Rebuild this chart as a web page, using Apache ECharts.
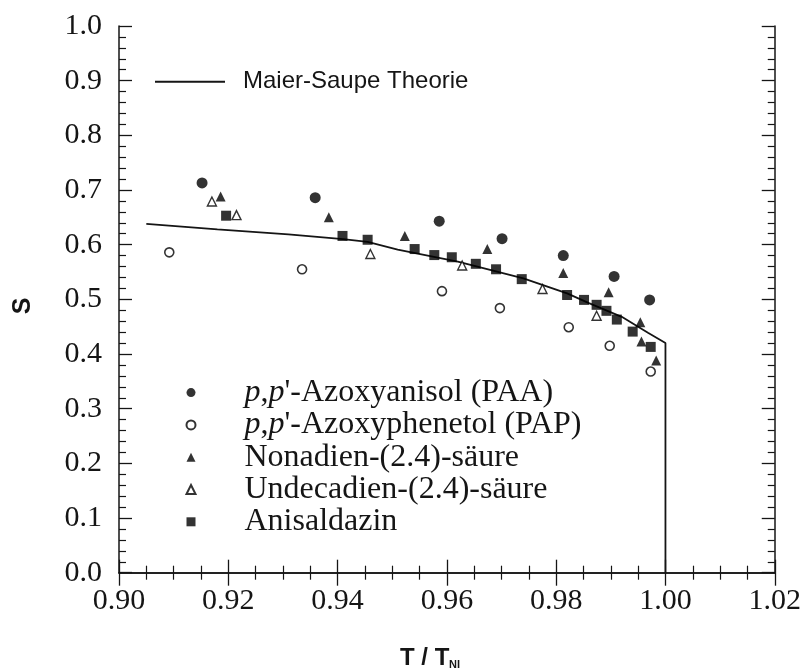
<!DOCTYPE html>
<html><head><meta charset="utf-8">
<script src="https://cdn.jsdelivr.net/npm/echarts@6/dist/echarts.min.js"></script>
<style>html,body{margin:0;padding:0;background:#fff}#c{width:804px;height:670px}</style>
</head><body><div id="c"></div>
<script>
// Tick labels
const xTickLabels = ['0.90','0.92','0.94','0.96','0.98','1.00','1.02'];
const yTickLabels = ['0.0','0.1','0.2','0.3','0.4','0.5','0.6','0.7','0.8','0.9','1.0'];

// Maier-Saupe theory curve
const theoryX = [0.905,0.918,0.931,0.941,0.9455,0.951,0.962,0.974,0.982,0.986,0.992,0.9968,1.000,1.000];
const theoryY = [0.638,0.628,0.619,0.610,0.605,0.591,0.569,0.5385,0.511,0.493,0.468,0.439,0.420,0.0];

// p,p'-Azoxyanisol (PAA) - filled circles
const paaX = [0.9152,0.9359,0.9586,0.9701,0.9813,0.9906,0.9971];
const paaY = [0.713,0.686,0.643,0.611,0.580,0.542,0.499];

// p,p'-Azoxyphenetol (PAP) - open circles
const papX = [0.9092,0.9335,0.9591,0.9697,0.9823,0.9898,0.9973];
const papY = [0.586,0.555,0.515,0.484,0.449,0.415,0.368];

// Nonadien-(2.4)-säure - filled triangles
const nonX = [0.9186,0.9384,0.9523,0.9674,0.9813,0.9896,0.9954,0.9956,0.9983];
const nonY = [0.688,0.650,0.616,0.592,0.548,0.513,0.458,0.423,0.388];

// Undecadien-(2.4)-säure - open triangles
const undX = [0.9170,0.9215,0.9460,0.9628,0.9775,0.9874];
const undY = [0.679,0.654,0.583,0.562,0.519,0.470];

// Anisaldazin - filled squares
const aniX = [0.9196,0.9409,0.9455,0.9541,0.9577,0.9609,0.9653,0.9690,0.9737,0.9820,0.9851,0.9874,0.9892,0.9911,0.9940,0.9973];
const aniY = [0.653,0.616,0.609,0.592,0.581,0.577,0.565,0.555,0.537,0.508,0.499,0.490,0.479,0.463,0.441,0.413];

const zip = (xs, ys) => xs.map((x, i) => [x, ys[i]]);

const serif = 'Liberation Serif';
const sans = 'Liberation Sans';
const ink = '#151515';

const names = {
  paa: "p,p'-Azoxyanisol (PAA)",
  pap: "p,p'-Azoxyphenetol (PAP)",
  non: 'Nonadien-(2.4)-säure',
  und: 'Undecadien-(2.4)-säure',
  ani: 'Anisaldazin',
  th: 'Maier-Saupe Theorie'
};

const axisCommon = {
  type: 'value',
  splitLine: {show: false},
  axisLine: {show: true, lineStyle: {color: ink, width: 1.5}},
  axisTick: {show: true, inside: true, length: 13, lineStyle: {color: ink, width: 1.3}},
  minorTick: {show: true, length: 7, lineStyle: {color: ink, width: 1.2}},
  minorSplitLine: {show: false}
};

const chart = echarts.init(document.getElementById('c'), null, {renderer: 'canvas'});
chart.setOption({
  backgroundColor: '#ffffff',
  animation: false,
  grid: {left: 119, right: 29, top: 26, bottom: 97.3, containLabel: false},
  xAxis: [
    Object.assign({}, axisCommon, {
      position: 'bottom', min: 0.90, max: 1.02, interval: 0.02,
      minorTick: Object.assign({}, axisCommon.minorTick, {splitNumber: 4}),
      axisLabel: {show: true, margin: 13, fontFamily: serif, fontSize: 30, color: ink,
        formatter: v => xTickLabels[Math.round((v - 0.90) / 0.02)]}
    }),
    Object.assign({}, axisCommon, {
      position: 'top', min: 0.90, max: 1.02, interval: 0.02,
      minorTick: Object.assign({}, axisCommon.minorTick, {splitNumber: 4}),
      axisLabel: {show: false}
    })
  ],
  yAxis: [
    Object.assign({}, axisCommon, {
      position: 'left', min: 0, max: 1, interval: 0.1,
      minorTick: Object.assign({}, axisCommon.minorTick, {splitNumber: 5}),
      axisLabel: {show: true, margin: 17, fontFamily: serif, fontSize: 30, color: ink,
        formatter: v => yTickLabels[Math.round(v / 0.1)]}
    }),
    Object.assign({}, axisCommon, {
      position: 'right', min: 0, max: 1, interval: 0.1,
      minorTick: Object.assign({}, axisCommon.minorTick, {splitNumber: 5}),
      axisLabel: {show: false}
    })
  ],
  legend: [
    {
      data: [{name: names.th, icon: 'rect'}],
      left: 150, top: 64.7, itemWidth: 70, itemHeight: 2, selectedMode: false,
      textStyle: {fontFamily: sans, fontSize: 24, lineHeight: 24, color: ink, padding: [0, 0, 0, 13]}
    },
    {
      data: [names.paa, names.pap, names.non, names.und, names.ani],
      orient: 'vertical', left: 180.5, top: 371.6, itemWidth: 9, itemHeight: 9, itemGap: 0.3,
      selectedMode: false,
      formatter: n => n.startsWith('p,p') ? '{i|p},{i|p}' + n.slice(3) : n,
      textStyle: {fontFamily: serif, fontSize: 32, lineHeight: 32, color: ink, padding: [0, 0, 0, 44],
        rich: {i: {fontFamily: serif, fontSize: 32, lineHeight: 32, fontStyle: 'italic', color: ink}}}
    }
  ],
  graphic: [
    {type: 'text', x: 23, y: 306, rotation: Math.PI / 2,
      style: {text: 'S', font: 'bold 25px "Liberation Sans"', fill: ink, align: 'center', verticalAlign: 'middle'}},
    {type: 'text', x: 400, y: 658,
      style: {text: 'T / T', font: 'bold 24px "Liberation Sans"', fill: ink, align: 'left', verticalAlign: 'middle'}},
    {type: 'text', x: 449, y: 664.5,
      style: {text: 'NI', font: 'bold 11px "Liberation Sans"', fill: ink, align: 'left', verticalAlign: 'middle'}}
  ],
  series: [
    {name: names.th, type: 'line', data: zip(theoryX, theoryY), showSymbol: false, symbol: 'none',
      color: ink, lineStyle: {color: ink, width: 1.8}, z: 2},
    {name: names.paa, type: 'scatter', data: zip(paaX, paaY), symbol: 'circle', symbolSize: 11,
      itemStyle: {color: '#000'}, z: 3},
    {name: names.pap, type: 'scatter', data: zip(papX, papY), symbol: 'circle', symbolSize: 9,
      itemStyle: {color: '#fff', borderColor: '#000', borderWidth: 1.6}, z: 3},
    {name: names.non, type: 'scatter', data: zip(nonX, nonY), symbol: 'triangle', symbolSize: 10,
      itemStyle: {color: '#000'}, z: 3},
    {name: names.und, type: 'scatter', data: zip(undX, undY), symbol: 'triangle', symbolSize: 9,
      itemStyle: {color: '#fff', borderColor: '#000', borderWidth: 1.4}, z: 3},
    {name: names.ani, type: 'scatter', data: zip(aniX, aniY), symbol: 'rect', symbolSize: 10,
      itemStyle: {color: '#000'}, z: 3}
  ]
});
</script></body></html>
